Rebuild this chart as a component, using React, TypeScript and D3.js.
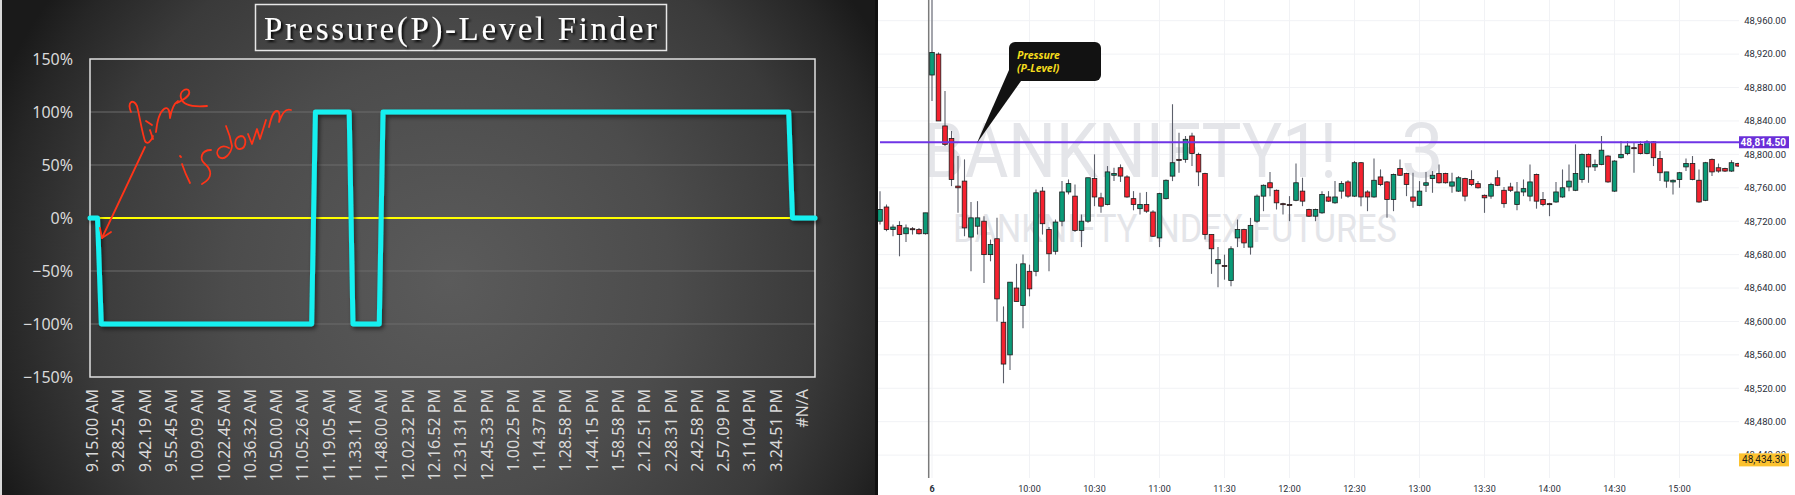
import React from "react";
import * as d3 from "d3";

const W = 1795;
const H = 495;

// ---------- Left chart data (Excel "Pressure(P)-Level Finder") ----------
// run-length list of the plotted step values: [value, number of points]
const pressureRuns: [number, number][] = [
  [0, 3],
  [-1, 57],
  [1, 10],
  [-1, 8],
  [1, 109],
  [0, 7],
];
const pressureLabelEvery = 7;
const pressureTimeLabels = [
  "9.15.00 AM", "9.28.25 AM", "9.42.19 AM", "9.55.45 AM", "10.09.09 AM", "10.22.45 AM",
  "10.36.32 AM", "10.50.00 AM", "11.05.26 AM", "11.19.05 AM", "11.33.11 AM", "11.48.00 AM",
  "12.02.32 PM", "12.16.52 PM", "12.31.31 PM", "12.45.33 PM", "1.00.25 PM", "1.14.37 PM",
  "1.28.58 PM", "1.44.15 PM", "1.58.58 PM", "2.12.51 PM", "2.28.31 PM", "2.42.58 PM",
  "2.57.09 PM", "3.11.04 PM", "3.24.51 PM", "#N/A",
];
const pressurePctTicks = [-1.5, -1, -0.5, 0, 0.5, 1, 1.5];
const pressureTitle = "Pressure(P)-Level Finder";

// ---------- Right chart data (BANKNIFTY1! 3-minute candles) ----------
const firstCandleIndex = -8; // previous session candles come before the 9:15 candle (index 0)
// [open, high, low, close]
const candles: [number, number, number, number][] = [
  [48720, 48756, 48716, 48734], [48737, 48740, 48708, 48710], [48710, 48716, 48702, 48713],
  [48715, 48720, 48678, 48704], [48705, 48716, 48695, 48712], [48711, 48713, 48704, 48710],
  [48710, 48712, 48704, 48705], [48705, 48730, 48704, 48730],
  [48895, 48995, 48864, 48922], [48920, 48922, 48840, 48840], [48834, 48876, 48810, 48812],
  [48819, 48828, 48762, 48770], [48762, 48798, 48730, 48760], [48768, 48794, 48702, 48712],
  [48701, 48743, 48660, 48724], [48714, 48744, 48704, 48724], [48720, 48726, 48646, 48680],
  [48680, 48698, 48672, 48692], [48699, 48724, 48600, 48627], [48599, 48618, 48526, 48549],
  [48560, 48647, 48542, 48647], [48640, 48669, 48624, 48624], [48619, 48680, 48592, 48669],
  [48660, 48668, 48630, 48639], [48660, 48758, 48654, 48754], [48756, 48761, 48704, 48717],
  [48710, 48713, 48660, 48681], [48684, 48722, 48680, 48719], [48720, 48768, 48714, 48755],
  [48755, 48770, 48752, 48765], [48750, 48764, 48707, 48709], [48709, 48728, 48689, 48720],
  [48720, 48772, 48718, 48772], [48771, 48800, 48738, 48749], [48748, 48754, 48730, 48738],
  [48740, 48786, 48739, 48779], [48775, 48784, 48768, 48777], [48784, 48788, 48767, 48774],
  [48773, 48775, 48748, 48749], [48747, 48756, 48733, 48740], [48735, 48754, 48728, 48740],
  [48740, 48755, 48730, 48732], [48731, 48733, 48701, 48702], [48700, 48754, 48689, 48753],
  [48747, 48770, 48746, 48769], [48774, 48860, 48768, 48790], [48794, 48826, 48778, 48793],
  [48794, 48822, 48790, 48818], [48822, 48826, 48786, 48801], [48800, 48802, 48762, 48779],
  [48777, 48778, 48698, 48704], [48704, 48704, 48657, 48687], [48669, 48689, 48641, 48674],
  [48667, 48680, 48650, 48666], [48649, 48690, 48642, 48687], [48700, 48722, 48689, 48710],
  [48710, 48711, 48688, 48694], [48689, 48724, 48680, 48715], [48720, 48752, 48718, 48750],
  [48750, 48764, 48732, 48763], [48766, 48779, 48750, 48760], [48757, 48758, 48734, 48742],
  [48741, 48742, 48728, 48740], [48740, 48750, 48720, 48739], [48745, 48789, 48744, 48766],
  [48756, 48772, 48738, 48744], [48734, 48735, 48725, 48726], [48726, 48735, 48720, 48734],
  [48730, 48756, 48729, 48752], [48749, 48756, 48743, 48744], [48742, 48768, 48741, 48749],
  [48756, 48768, 48747, 48765], [48767, 48769, 48748, 48750], [48750, 48792, 48749, 48790],
  [48790, 48791, 48738, 48749], [48755, 48757, 48732, 48749], [48749, 48795, 48748, 48769],
  [48773, 48782, 48762, 48764], [48767, 48768, 48724, 48746], [48746, 48777, 48732, 48776],
  [48783, 48794, 48774, 48775], [48777, 48778, 48750, 48764], [48749, 48778, 48736, 48744],
  [48739, 48768, 48738, 48756], [48763, 48779, 48755, 48766], [48771, 48780, 48754, 48775],
  [48777, 48788, 48765, 48766], [48777, 48778, 48765, 48766], [48762, 48778, 48754, 48767],
  [48756, 48774, 48755, 48772], [48771, 48772, 48744, 48750], [48770, 48781, 48762, 48764],
  [48765, 48768, 48759, 48760], [48751, 48752, 48730, 48748], [48750, 48766, 48747, 48764],
  [48772, 48781, 48762, 48763], [48757, 48761, 48736, 48741], [48761, 48766, 48755, 48757],
  [48740, 48767, 48733, 48755], [48755, 48770, 48750, 48759], [48750, 48788, 48744, 48767],
  [48776, 48777, 48735, 48744], [48746, 48755, 48738, 48740], [48741, 48742, 48726, 48740],
  [48743, 48767, 48742, 48755], [48749, 48782, 48748, 48760], [48761, 48788, 48756, 48768],
  [48757, 48812, 48756, 48777], [48770, 48801, 48766, 48800], [48800, 48801, 48766, 48785],
  [48785, 48794, 48780, 48788], [48788, 48822, 48787, 48805], [48798, 48799, 48766, 48767],
  [48756, 48793, 48755, 48792], [48796, 48816, 48795, 48800], [48801, 48816, 48799, 48810],
  [48808, 48814, 48778, 48807], [48812, 48816, 48800, 48801], [48801, 48817, 48800, 48815],
  [48815, 48816, 48786, 48796], [48795, 48804, 48768, 48778], [48768, 48779, 48760, 48779],
  [48767, 48770, 48752, 48769], [48770, 48779, 48760, 48778], [48785, 48795, 48780, 48789],
  [48789, 48798, 48769, 48770], [48769, 48782, 48742, 48743], [48745, 48791, 48744, 48790],
  [48794, 48795, 48774, 48779], [48784, 48789, 48778, 48780], [48783, 48784, 48779, 48780],
  [48780, 48793, 48779, 48790], [48789, 48790, 48785, 48786],
];
const priceTicks = [
  48440, 48480, 48520, 48560, 48600, 48640, 48680, 48720, 48760, 48800, 48840, 48880, 48920, 48960,
];
const timeAxisLabels = ["6", "10:00", "10:30", "11:00", "11:30", "12:00", "12:30", "13:00", "13:30", "14:00", "14:30", "15:00"];
const timeAxisIndex = [0, 15, 25, 35, 45, 55, 65, 75, 85, 95, 105, 115];
const pLevelPrice = 48814.5;
const lastPrice = 48434.3;
const symbolText = "BANKNIFTY1!";
const intervalText = "3";
const descriptionText = "BANKNIFTY INDEX FUTURES";

export default function App() {
  // ----- left scales -----
  const pressureSeries: number[] = pressureRuns.flatMap(([v, n]) => Array.from({ length: n }, () => v));
  const nL = pressureSeries.length;
  const xL = d3.scaleLinear().domain([0, nL - 1]).range([90, 815]);
  const yL = d3.scaleLinear().domain([-1.5, 1.5]).range([377, 59]);
  const lineL = d3
    .line<number>()
    .x((_, i) => xL(i))
    .y((d) => yL(d));
  const pct = d3.format(".0%");

  // ----- right scales -----
  const xR = d3.scaleLinear().domain([0, 115]).range([932, 1679.5]);
  const yR = d3.scaleLinear().domain([48480, 48960]).range([421.7, 20.7]);
  const fmt = d3.format(",.2f");
  const bodyW = 4.6;
  const green = "#0b9b78";
  const red = "#f5222f";
  const paneRight = 1739;
  const lastBoxTop = yR(lastPrice) - 6.5;

  return (
    <div style={{ position: "absolute", left: 0, top: 0 }}>
      <svg width={W} height={H} style={{ display: "block" }}>
        <defs>
          <radialGradient id="bgL" gradientUnits="userSpaceOnUse" cx={450} cy={280} r={490}>
            <stop offset="0" stopColor="#5b5b5b" />
            <stop offset="0.45" stopColor="#4c4c4c" />
            <stop offset="0.75" stopColor="#3a3a3a" />
            <stop offset="0.92" stopColor="#262626" />
            <stop offset="1" stopColor="#1a1a1a" />
          </radialGradient>
          <filter id="titleShadow" x="-10%" y="-30%" width="120%" height="160%">
            <feDropShadow dx="2" dy="2" stdDeviation="1.2" floodColor="#000" floodOpacity="0.9" />
          </filter>
          <filter id="lineShadow" x="-5%" y="-5%" width="110%" height="110%">
            <feDropShadow dx="2" dy="2.5" stdDeviation="2" floodColor="#000" floodOpacity="0.55" />
          </filter>
          <clipPath id="paneClip">
            <rect x={878} y={0} width={paneRight - 878} height={478} />
          </clipPath>
          <clipPath id="axisClip">
            <rect x={1739} y={0} width={56} height={lastBoxTop} />
          </clipPath>
        </defs>

        {/* ================= LEFT PANEL ================= */}
        <rect x={0} y={0} width={878} height={H} fill="url(#bgL)" />
        <rect x={0} y={0} width={2} height={H} fill="#d8d8d8" />
        <rect x={875} y={0} width={3} height={H} fill="#111" />

        {/* title */}
        <rect x={255.5} y={4.5} width={411} height={46} fill="none" stroke="#e6e6e6" strokeWidth={1.5} />
        <text
          x={264}
          y={40}
          fontFamily="'Liberation Serif', 'DejaVu Serif', serif"
          fontSize={33}
          fill="#ffffff"
          textLength={393}
          lengthAdjust="spacing"
          filter="url(#titleShadow)"
        >
          {pressureTitle}
        </text>

        {/* gridlines */}
        {pressurePctTicks
          .filter((t) => t !== 0 && Math.abs(t) !== 1.5)
          .map((t) => (
            <line key={"g" + t} x1={90} x2={815} y1={yL(t)} y2={yL(t)} stroke="#6c6c6c" strokeWidth={1} />
          ))}
        {/* zero line (yellow) */}
        <line x1={90} x2={815} y1={yL(0)} y2={yL(0)} stroke="#ffff00" strokeWidth={2} />

        {/* plot border */}
        <rect x={90} y={59} width={725} height={318} fill="none" stroke="#e0e0e0" strokeWidth={1.5} />

        {/* y labels */}
        {pressurePctTicks.map((t) => (
          <text
            key={"yl" + t}
            x={73}
            y={yL(t)}
            dy="0.35em"
            textAnchor="end"
            fontFamily="'Noto Sans', sans-serif"
            fontSize={16}
            fill="#d9d9d9"
          >
            {pct(t)}
          </text>
        ))}

        {/* x labels */}
        {pressureTimeLabels.map((lab, k) => {
          const x = xL(k * pressureLabelEvery) + 2.5;
          return (
            <text
              key={"xl" + k}
              transform={`translate(${x},389) rotate(-90)`}
              dy="0.35em"
              textAnchor="end"
              fontFamily="'Noto Sans', sans-serif"
              fontSize={16}
              fill="#d9d9d9"
            >
              {lab}
            </text>
          );
        })}

        {/* pressure line */}
        <path
          d={lineL(pressureSeries) || ""}
          fill="none"
          stroke="#12f0f0"
          strokeWidth={5}
          strokeLinejoin="round"
          strokeLinecap="round"
          filter="url(#lineShadow)"
        />

        {/* handwritten annotation "line is down" */}
        <g fill="none" stroke="#ff3418" strokeWidth={1.8} strokeLinecap="round" strokeLinejoin="round">
          {/* l */}
          <path d="M131,112 C127,102 133,98 137,106 C140,118 142,132 145,141 C147,145 151,142 153,136" />
          {/* i with accent */}
          <path d="M146,121 L152,125" />
          <path d="M150,130 L153,139" />
          {/* n */}
          <path d="M156,132 C157,122 160,112 164,109 C168,106 170,111 170,118 C171,112 173,104 178,101" />
          {/* e */}
          <path d="M177,103 C183,100 191,96 189,91 C187,87 179,91 181,98 C183,106 195,107 207,106" />
          {/* i */}
          <path d="M180,156 L181,157" />
          <path d="M182,164 C184,170 187,177 190,183" />
          {/* s */}
          <path d="M211,150 C201,150 199,159 205,164 C212,170 213,178 202,184" />
          {/* d */}
          <path d="M229,148 C220,143 214,152 219,157 C224,161 231,154 232,146 C231,140 229,133 226,126" />
          {/* o */}
          <path d="M241,136 C233,137 234,150 240,149 C247,148 247,136 241,136" />
          {/* w */}
          <path d="M248,134 L252,144 L257,129 L260,139 L266,120" />
          {/* n */}
          <path d="M269,127 C271,118 273,111 277,111 C280,111 280,118 279,122 C282,114 285,108 291,110" />
          {/* arrow */}
          <path d="M145,147 L102,238" />
          <path d="M102,238 L100,228 M102,238 L111,232" />
        </g>

        {/* ================= RIGHT PANEL ================= */}
        <rect x={878} y={0} width={W - 878} height={H} fill="#ffffff" />

        {/* grid */}
        {priceTicks.map((p) => (
          <line key={"hg" + p} x1={878} x2={paneRight} y1={yR(p)} y2={yR(p)} stroke="#f1f2f5" strokeWidth={1} />
        ))}
        {timeAxisIndex.map((i) => (
          <line key={"vg" + i} x1={xR(i)} x2={xR(i)} y1={0} y2={478} stroke="#f1f2f5" strokeWidth={1} />
        ))}

        {/* watermark */}
        <text x={923} y={177} fontFamily="Roboto, 'Noto Sans', sans-serif" fontSize={76} fill="#e4e5e9" textLength={414} lengthAdjust="spacingAndGlyphs">
          {symbolText}
        </text>
        <text x={1401} y={177} fontFamily="Roboto, 'Noto Sans', sans-serif" fontSize={76} fill="#e4e5e9">
          {intervalText}
        </text>
        <text x={953} y={242} fontFamily="Roboto, 'Noto Sans', sans-serif" fontSize={38} fill="#e4e5e9" textLength={444} lengthAdjust="spacingAndGlyphs">
          {descriptionText}
        </text>

        {/* session break line */}
        <line x1={928.7} x2={928.7} y1={0} y2={478} stroke="#7a7a7a" strokeWidth={1.5} />

        {/* candles */}
        <g clipPath="url(#paneClip)">
          {candles.map(([o, h, l, c], k) => {
            const i = firstCandleIndex + k;
            const x = xR(i);
            const up = c >= o;
            const top = yR(Math.max(o, c));
            const bot = yR(Math.min(o, c));
            const bh = Math.max(bot - top, 1);
            return (
              <g key={"c" + k}>
                <line x1={x} x2={x} y1={yR(h)} y2={yR(l)} stroke="#5d606b" strokeWidth={1.1} />
                <rect
                  x={x - bodyW / 2}
                  y={top}
                  width={bodyW}
                  height={bh}
                  fill={up ? green : red}
                  stroke="#1b1b1b"
                  strokeWidth={0.8}
                />
              </g>
            );
          })}
        </g>

        {/* P-level line */}
        <line x1={880} x2={paneRight} y1={yR(pLevelPrice)} y2={yR(pLevelPrice)} stroke="#6f35e6" strokeWidth={2} />

        {/* callout */}
        <polygon points="1009,70 1021,81 977,143" fill="#121212" />
        <rect x={1009} y={42} width={92} height={39} rx={6} fill="#121212" />
        <text x={1017} y={59} fontFamily="'Noto Sans', sans-serif" fontStyle="italic" fontWeight="bold" fontSize={10.5} fill="#f5dd1c">
          Pressure
        </text>
        <text x={1017} y={72} fontFamily="'Noto Sans', sans-serif" fontStyle="italic" fontWeight="bold" fontSize={10.5} fill="#f5dd1c">
          (P-Level)
        </text>

        {/* price axis (labels hidden under the last-price tag are clipped as in the reference) */}
        <g clipPath="url(#axisClip)">
          {priceTicks.map((p) => (
            <text
              key={"pl" + p}
              x={1786}
              y={yR(p)}
              dy="0.35em"
              textAnchor="end"
              fontFamily="Roboto, 'Liberation Sans', sans-serif"
              fontSize={9.5}
              fill="#2a2e39"
            >
              {fmt(p)}
            </text>
          ))}
        </g>
        <rect x={1739} y={yR(pLevelPrice) - 6} width={50} height={12} fill="#6a2fd8" />
        <text
          x={1786}
          y={yR(pLevelPrice)}
          dy="0.35em"
          textAnchor="end"
          fontFamily="Roboto, 'Liberation Sans', sans-serif"
          fontWeight="bold"
          fontSize={10}
          fill="#ffffff"
        >
          {fmt(pLevelPrice)}
        </text>
        <rect x={1739} y={lastBoxTop} width={50} height={13} fill="#fcc22f" />
        <text
          x={1786}
          y={yR(lastPrice)}
          dy="0.35em"
          textAnchor="end"
          fontFamily="Roboto, 'Liberation Sans', sans-serif"
          fontSize={10}
          fill="#1a1a1a"
        >
          {fmt(lastPrice)}
        </text>

        {/* time axis */}
        {timeAxisLabels.map((t, k) => (
          <text
            key={"tl" + k}
            x={xR(timeAxisIndex[k])}
            y={489}
            dy="0.35em"
            textAnchor="middle"
            fontFamily="Roboto, 'Liberation Sans', sans-serif"
            fontSize={9}
            fontWeight={t === "6" ? "bold" : "normal"}
            fill="#2a2e39"
          >
            {t}
          </text>
        ))}
      </svg>
    </div>
  );
}
